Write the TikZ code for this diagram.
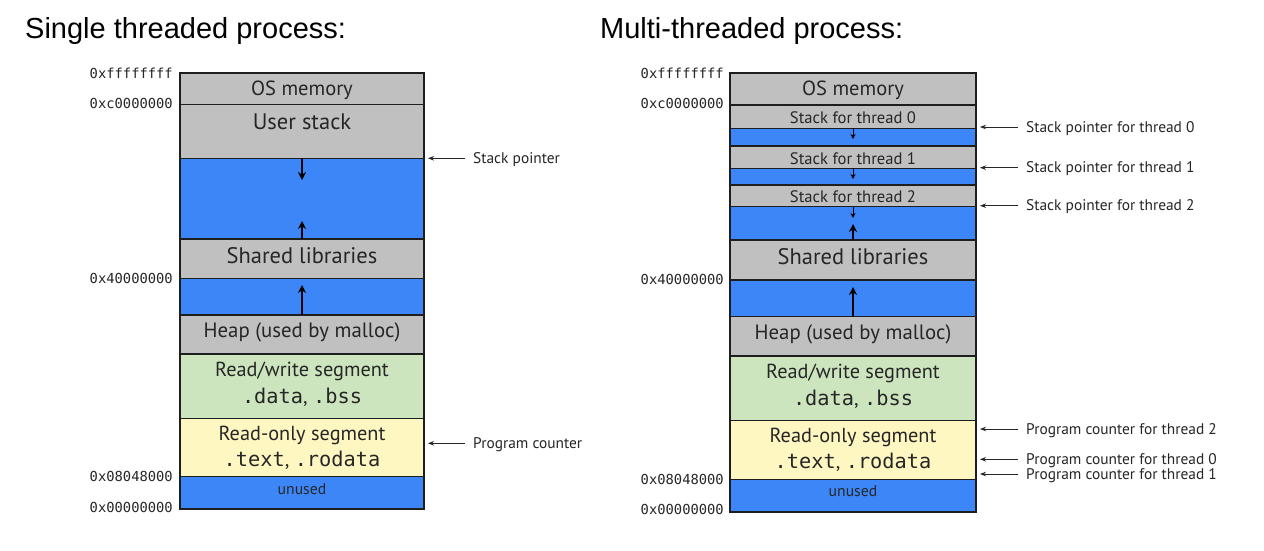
\documentclass[tikz,border=0pt]{standalone}
\usepackage{fontspec}
\setmainfont{Liberation Sans}
\newfontfamily\titlefont{Liberation Sans}
\newfontfamily\addrfont{DejaVu Sans Mono}
\newfontfamily\optfont{PT Sans}
\newcommand\codefont{\addrfont\fontsize{20.3}{22}\selectfont}
\usetikzlibrary{arrows.meta}
\definecolor{seggray}{HTML}{C0C0C0}
\definecolor{segblue}{HTML}{3D86F7}
\definecolor{seggreen}{HTML}{CDE5BE}
\definecolor{segyellow}{HTML}{FFF7C1}
\definecolor{lineblack}{HTML}{1E1E1E}
\definecolor{txt}{HTML}{262626}
\newcommand\memseg[6]{\node[segbox,fill=#6,minimum width={(#3-#2)*1pt},minimum height={(#5-#4)*1pt}] (#1) at ({(#2+#3)/2},{(#4+#5)/2}) {};}
\begin{document}
\begin{tikzpicture}[x=1pt,y=-1pt,
  segbox/.style={rectangle,draw=lineblack,line width=1.2pt,inner sep=0pt,outer sep=0pt},
  outerbox/.style={draw=lineblack,line width=2pt},
  titletext/.style={font=\titlefont\fontsize{29}{32}\selectfont,inner sep=0pt,anchor=base west},
  addr/.style={font=\addrfont\fontsize{13.8}{15}\selectfont,inner sep=0pt,anchor=base east,text=black!85},
  lblbig/.style={font=\optfont\fontsize{22.5}{26}\selectfont,inner sep=0pt,anchor=base,text=txt},
  lblos/.style={font=\optfont\fontsize{20.5}{24}\selectfont,inner sep=0pt,anchor=base,text=txt},
  lblmid/.style={font=\optfont\fontsize{20.3}{23}\selectfont,inner sep=0pt,anchor=base,text=txt},
  lblheap/.style={font=\optfont\fontsize{20.8}{23}\selectfont,inner sep=0pt,anchor=base,text=txt},
  lblsmall/.style={font=\optfont\fontsize{16.6}{19}\selectfont,inner sep=0pt,anchor=base,text=txt},
  lbltiny/.style={font=\optfont\fontsize{15.7}{18}\selectfont,inner sep=0pt,anchor=base,text=txt},
  ptrlbl/.style={font=\optfont\fontsize{15.4}{18}\selectfont,anchor=west,inner ysep=0pt,inner xsep=8pt,text height=11pt,text depth=1pt,text=txt},
  ptr/.style={draw=txt,line width=0.8pt,-{Stealth[length=6pt,width=4.5pt]}},
  bigarrow/.style={draw=black,line width=2pt,-{Stealth[length=8pt,width=8pt]}},
  smallarrow/.style={draw=black,line width=1pt,-{Stealth[length=5pt,width=5pt]}}
]
\path[use as bounding box,fill=white] (0,0) rectangle (1264,550);

% ---------------- titles
\node[titletext] (title-left) at (25,38.3) {Single threaded process:};
\node[titletext] (title-right) at (600,38.3) {Multi-threaded process:};

% ---------------- single threaded
\memseg{L-os}{180}{424}{72.7}{104.3}{seggray}
\memseg{L-stack}{180}{424}{104.3}{158.3}{seggray}
\memseg{L-free}{180}{424}{158.3}{239}{segblue}
\memseg{L-shlib}{180}{424}{239}{278.3}{seggray}
\memseg{L-gap}{180}{424}{278.3}{315}{segblue}
\memseg{L-heap}{180}{424}{315}{354}{seggray}
\memseg{L-rw}{180}{424}{354}{418.3}{seggreen}
\memseg{L-ro}{180}{424}{418.3}{476.7}{segyellow}
\memseg{L-unused}{180}{424}{476.7}{509.3}{segblue}
\draw[outerbox] (L-os.north west) rectangle (L-unused.south east);

\node[lblos] (L-os-t) at (302,95) {OS memory};
\node[lblbig] (L-stack-t) at (302,129.3) {User stack};
\node[lblbig] (L-shlib-t) at (302,263.3) {Shared libraries};
\node[lblheap] (L-heap-t) at (302,337.3) {Heap (used by malloc)};
\node[lblmid] (L-rw-t) at (302,376) {Read/write segment};
\node[lblmid] (L-rw-c) at (302,403.3) {{\codefont .data}, {\codefont .bss}};
\node[lblmid] (L-ro-t) at (302,440.7) {Read-only segment};
\node[lblmid] (L-ro-c) at (302,466.5) {{\codefont .text}, {\codefont .rodata}};
\node[lbltiny] (L-unused-t) at (302,494) {unused};

\node[addr] (L-a1) at (173,78.7) {0xffffffff};
\node[addr] (L-a2) at (173,108.3) {0xc0000000};
\node[addr] (L-a3) at (173,283.3) {0x40000000};
\node[addr] (L-a4) at (173,481.7) {0x08048000};
\node[addr] (L-a5) at (173,512.3) {0x00000000};

\coordinate (L-d1) at (302,180);
\coordinate (L-u1) at (302,221);
\coordinate (L-u2) at (302,285);
\draw[bigarrow] (L-free.north) -- (L-d1);
\draw[bigarrow] (L-shlib.north) -- (L-u1);
\draw[bigarrow] (L-heap.north) -- (L-u2);

\coordinate (L-sp-tip) at (428,158.3);
\coordinate (L-pc-tip) at (428,443.3);
\node[ptrlbl] (L-sp-t) at (465,158.3) {Stack pointer};
\node[ptrlbl] (L-pc-t) at (465,443.3) {Program counter};
\draw[ptr] (L-sp-t.west) -- (L-sp-tip);
\draw[ptr] (L-pc-t.west) -- (L-pc-tip);

% ---------------- multi threaded
\memseg{R-os}{730}{976}{73}{105}{seggray}
\memseg{R-s0}{730}{976}{105}{128.3}{seggray}
\memseg{R-f0}{730}{976}{128.3}{146}{segblue}
\memseg{R-s1}{730}{976}{146}{168.3}{seggray}
\memseg{R-f1}{730}{976}{168.3}{185}{segblue}
\memseg{R-s2}{730}{976}{185}{206.7}{seggray}
\memseg{R-f2}{730}{976}{206.7}{240}{segblue}
\memseg{R-shlib}{730}{976}{240}{280}{seggray}
\memseg{R-gap}{730}{976}{280}{316.7}{segblue}
\memseg{R-heap}{730}{976}{316.7}{356}{seggray}
\memseg{R-rw}{730}{976}{356}{420.5}{seggreen}
\memseg{R-ro}{730}{976}{420.5}{479.3}{segyellow}
\memseg{R-unused}{730}{976}{479.3}{511.5}{segblue}
\draw[outerbox] (R-os.north west) rectangle (R-unused.south east);

\node[lblos] (R-os-t) at (853,95) {OS memory};
\node[lblsmall] (R-s0-t) at (853,123.3) {Stack for thread 0};
\node[lblsmall] (R-s1-t) at (853,164.3) {Stack for thread 1};
\node[lblsmall] (R-s2-t) at (853,202.3) {Stack for thread 2};
\node[lblbig] (R-shlib-t) at (853,264.3) {Shared libraries};
\node[lblheap] (R-heap-t) at (853,339.3) {Heap (used by malloc)};
\node[lblmid] (R-rw-t) at (853,378) {Read/write segment};
\node[lblmid] (R-rw-c) at (853,405.3) {{\codefont .data}, {\codefont .bss}};
\node[lblmid] (R-ro-t) at (853,442.7) {Read-only segment};
\node[lblmid] (R-ro-c) at (853,468.5) {{\codefont .text}, {\codefont .rodata}};
\node[lbltiny] (R-unused-t) at (853,496) {unused};

\node[addr] (R-a1) at (724,78.7) {0xffffffff};
\node[addr] (R-a2) at (724,108.3) {0xc0000000};
\node[addr] (R-a3) at (724,284.5) {0x40000000};
\node[addr] (R-a4) at (724,484) {0x08048000};
\node[addr] (R-a5) at (724,514) {0x00000000};

\coordinate (R-d0) at (853,139);
\coordinate (R-d1) at (853,179);
\coordinate (R-d2) at (853,218);
\coordinate (R-u1) at (853,224);
\coordinate (R-u2) at (853,287);
\draw[smallarrow] (R-s0.south) -- (R-d0);
\draw[smallarrow] (R-s1.south) -- (R-d1);
\draw[smallarrow] (R-s2.south) -- (R-d2);
\draw[bigarrow] (R-shlib.north) -- (R-u1);
\draw[bigarrow] (R-heap.north) -- (R-u2);

\coordinate (R-sp0-tip) at (980,127);
\coordinate (R-sp1-tip) at (980,167.7);
\coordinate (R-sp2-tip) at (980,205.7);
\coordinate (R-pc2-tip) at (980,429);
\coordinate (R-pc0-tip) at (980,459.3);
\coordinate (R-pc1-tip) at (980,474);
\node[ptrlbl] (R-sp0-t) at (1018,127) {Stack pointer for thread 0};
\node[ptrlbl] (R-sp1-t) at (1018,167.7) {Stack pointer for thread 1};
\node[ptrlbl] (R-sp2-t) at (1018,205.7) {Stack pointer for thread 2};
\node[ptrlbl] (R-pc2-t) at (1018,429) {Program counter for thread 2};
\node[ptrlbl] (R-pc0-t) at (1018,459.3) {Program counter for thread 0};
\node[ptrlbl] (R-pc1-t) at (1018,474) {Program counter for thread 1};
\draw[ptr] (R-sp0-t.west) -- (R-sp0-tip);
\draw[ptr] (R-sp1-t.west) -- (R-sp1-tip);
\draw[ptr] (R-sp2-t.west) -- (R-sp2-tip);
\draw[ptr] (R-pc2-t.west) -- (R-pc2-tip);
\draw[ptr] (R-pc0-t.west) -- (R-pc0-tip);
\draw[ptr] (R-pc1-t.west) -- (R-pc1-tip);
\end{tikzpicture}
\end{document}
